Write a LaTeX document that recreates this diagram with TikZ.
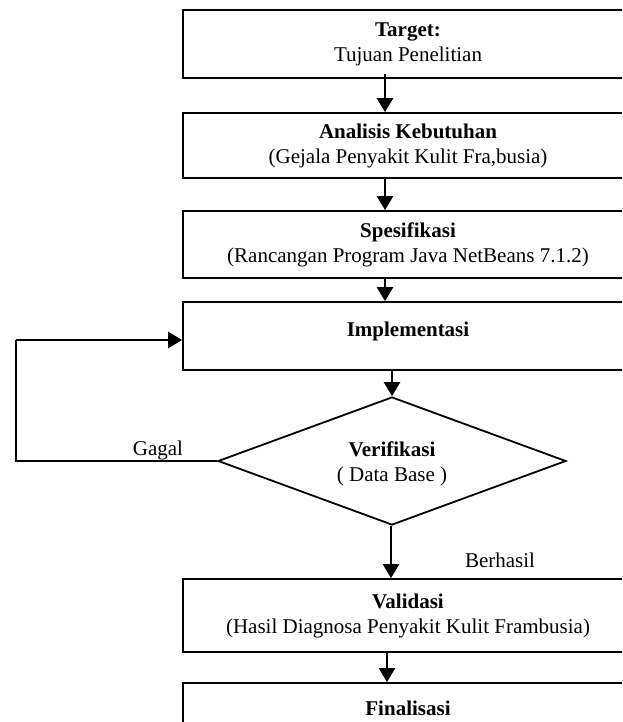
\documentclass[tikz,border=0pt]{standalone}
\usepackage{fontspec}
\setmainfont{Liberation Serif}
\usetikzlibrary{arrows.meta,shapes.geometric}
\begin{document}
\begin{tikzpicture}[x=1pt,y=-1pt,
  box/.style={draw,line width=1.8pt,minimum width=450pt,align=center,inner sep=0pt,
    font=\fontsize{21}{25}\selectfont},
  arr/.style={line width=2.6pt,-{Triangle[width=16pt,length=14pt]}},
  lbl/.style={font=\fontsize{21}{25}\selectfont,inner sep=0pt}]
\clip (0,0) rectangle (622,722);
\fill[white] (0,0) rectangle (622,722);
\node[box,minimum height=68pt] (t) at (408,44) {\textbf{Target:}\\Tujuan Penelitian};
\node[box,minimum height=65pt] (a) at (408,145.5) {\textbf{Analisis Kebutuhan}\\(Gejala Penyakit Kulit Fra,busia)};
\node[box,minimum height=67pt] (s) at (408,244.5) {\textbf{Spesifikasi}\\(Rancangan Program Java NetBeans 7.1.2)};
\node[box,minimum height=68pt] (i) at (408,336) {};
\node[lbl] (it) at (408,331) {\textbf{Implementasi}};
\node[draw,line width=1.8pt,diamond,minimum width=348pt,minimum height=128pt,inner sep=0pt,aspect=2.72] (v) at (392,461) {};
\node[lbl,align=center] (vt) at (392,464) {\textbf{Verifikasi}\\( Data Base )};
\node[box,minimum height=73pt] (val) at (408,615.5) {\textbf{Validasi}\\(Hasil Diagnosa Penyakit Kulit Frambusia)};
\node[box,minimum height=50pt] (f) at (408,708) {\textbf{Finalisasi}};
\node[lbl] (g) at (158,450) {Gagal};
\node[lbl] (b) at (500,560) {Berhasil};
\coordinate (c1) at (16,461);
\coordinate (c2) at (16,340);
\draw[arr] ([xshift=-23pt,yshift=5pt]t.south) -- ([xshift=-23pt]a.north);
\draw[arr] ([xshift=-23pt]a.south) -- ([xshift=-23pt]s.north);
\draw[arr] ([xshift=-23pt]s.south) -- ([xshift=-23pt]i.north);
\draw[arr] (i.south -| v.north) -- (v.north);
\draw[arr] ([xshift=-1pt]v.south) -- (val.north -| {(391,0)});
\draw[arr] ([xshift=-21pt]val.south) -- ([xshift=-21pt]f.north);
\draw[line width=2pt] (v.west) -- (c1) -- (c2);
\draw[arr] (c2) -- (i.west |- c2);
\end{tikzpicture}
\end{document}
